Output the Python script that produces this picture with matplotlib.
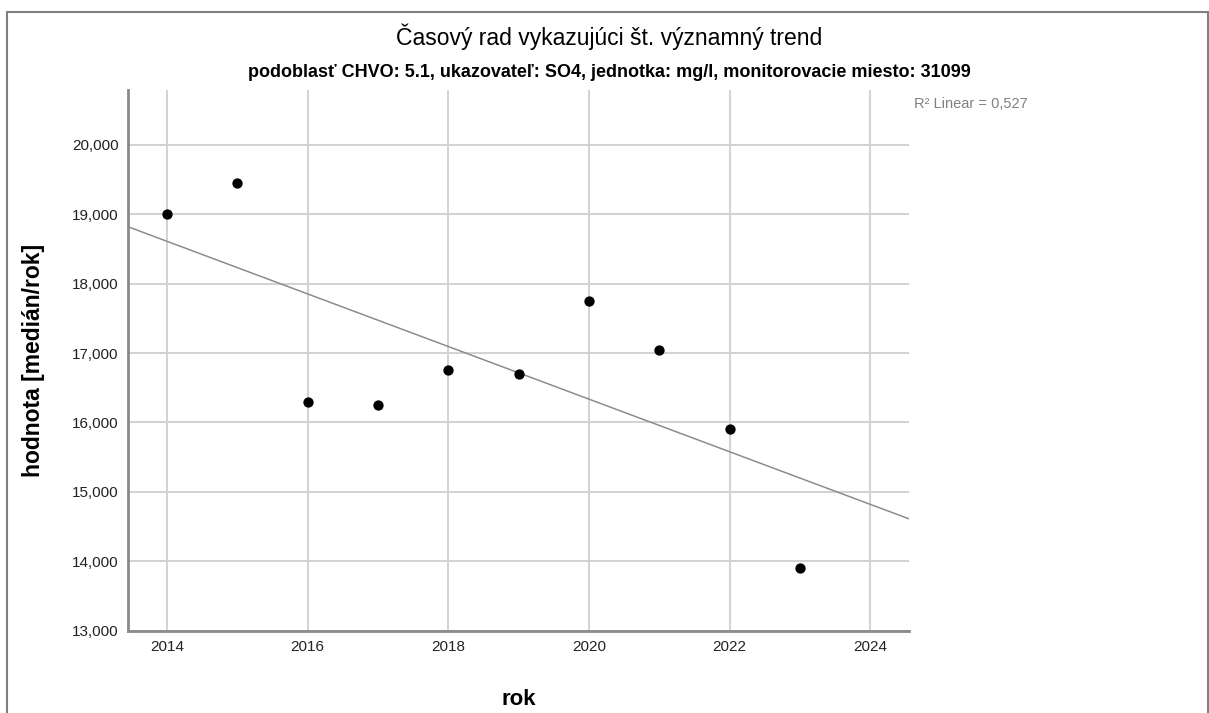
import numpy as np
import matplotlib
matplotlib.use("Agg")
from matplotlib import pyplot as plt
from matplotlib.patches import Rectangle

plt.rcParams['font.family'] = ['Liberation Sans', 'DejaVu Sans']

# median per year, SO4 [mg/l]
years = [2014, 2015, 2016, 2017, 2018, 2019, 2020, 2021, 2022, 2023]
values = [19.0, 19.45, 16.3, 16.25, 16.75, 16.7, 17.75, 17.05, 15.9, 13.9]
x_ticks = [2014, 2016, 2018, 2020, 2022, 2024]
y_ticks = [13, 14, 15, 16, 17, 18, 19, 20]

TITLE = 'Časový rad vykazujúci št. významný trend'
SUBTITLE = 'podoblasť CHVO: 5.1, ukazovateľ: SO4, jednotka: mg/l, monitorovacie miesto: 31099'

fig = plt.figure(figsize=(12.09, 7.13), dpi=100)
ax = fig.add_axes([0.1061, 0.1154, 0.6458, 0.7584])

# outer frame like the SPSS output
fig.patches.append(Rectangle((7 / 1209, -0.01), 1201 / 1209, 1.01 - 12 / 713,
                             transform=fig.transFigure, fill=False,
                             edgecolor='#808080', lw=1.5))

x = np.array(years, dtype=float)
y = np.array(values)
slope, icpt = np.polyfit(x, y, 1)
r2 = np.corrcoef(x, y)[0, 1] ** 2

xlim = (2013.452, 2024.55)
ylim = (13.0, 20.79)
ax.set_xlim(*xlim)
ax.set_ylim(*ylim)

xl = np.array(xlim)
ax.plot(xl, slope * xl + icpt, color='#8c8c8c', lw=1.1, zorder=2)
ax.scatter(x, y, s=55, color='black', zorder=3, linewidths=0)

ax.set_xticks(x_ticks)
ax.set_yticks(y_ticks)
ax.set_yticklabels(['{:.3f}'.format(v).replace('.', ',') for v in y_ticks])
ax.grid(True, color='#d2d2d2', lw=1.4, zorder=0)
ax.set_axisbelow(True)
ax.tick_params(length=0, labelsize=11, colors='#222222', pad=7)

for s in ['top', 'right']:
    ax.spines[s].set_visible(False)
for s in ['left', 'bottom']:
    ax.spines[s].set_color('#8a8a8a')
    ax.spines[s].set_linewidth(2)

ax.set_xlabel('rok', fontsize=16, fontweight='bold')
ax.set_ylabel('hodnota [medián/rok]', fontsize=16.5, fontweight='bold')
ax.xaxis.set_label_coords(0.5, -0.107)
ax.yaxis.set_label_coords(-0.107, 0.5)

fig.text(0.504, 0.948, TITLE, ha='center', va='center', fontsize=16.5)
fig.text(0.504, 0.898, SUBTITLE, ha='center', va='center', fontsize=13, fontweight='bold')
fig.text(914 / 1209, 1 - 104 / 713, 'R² Linear = {:.3f}'.format(r2).replace('.', ','),
         ha='left', va='center', fontsize=10.5, color='#808080')

fig.savefig('out.png', dpi=100)
